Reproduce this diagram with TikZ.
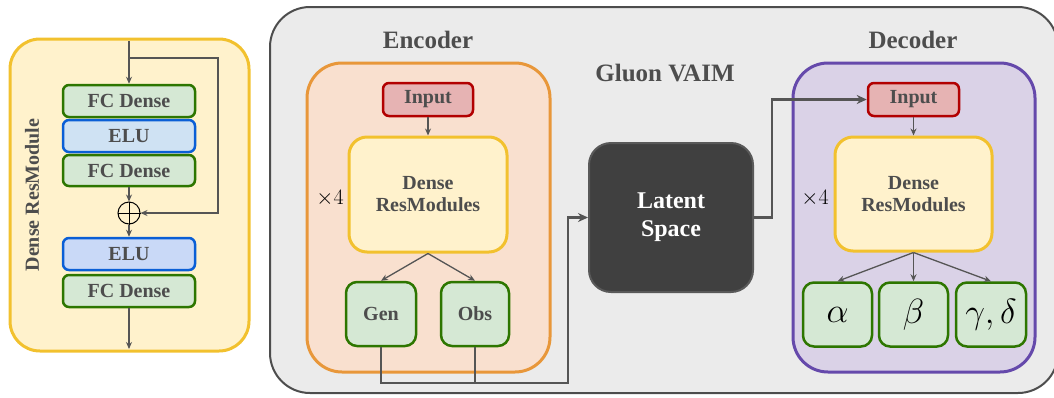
\RequirePackage{fix-cm}
\documentclass[tikz,border=0pt]{standalone}
\usepackage{graphicx}
\usepackage{fontspec}
\setmainfont{Liberation Serif}
\usetikzlibrary{arrows.meta}
\definecolor{txt}{HTML}{4D4D4D}
\definecolor{modfill}{HTML}{FFF2CC}
\definecolor{moddraw}{HTML}{F2C12E}
\definecolor{grfill}{HTML}{D5E8D4}
\definecolor{grdraw}{HTML}{2D7600}
\definecolor{bl1fill}{HTML}{CFE2F3}
\definecolor{bl2fill}{HTML}{C9D9F7}
\definecolor{bldraw}{HTML}{0A5FD6}
\definecolor{mainfill}{HTML}{EBEBEB}
\definecolor{maindraw}{HTML}{4D4D4D}
\definecolor{encfill}{HTML}{F9E0CF}
\definecolor{encdraw}{HTML}{E8973A}
\definecolor{decfill}{HTML}{DAD2E7}
\definecolor{decdraw}{HTML}{6549AB}
\definecolor{infill}{HTML}{E6B3B3}
\definecolor{indraw}{HTML}{B20000}
\definecolor{latfill}{HTML}{404040}
\definecolor{latdraw}{HTML}{595959}
\definecolor{arr}{HTML}{555555}
\newcommand{\bigmath}[1]{\scalebox{1.75}{$#1$}}
\tikzset{
  lbl/.style={text=txt, font=\bfseries\fontsize{20}{22}\selectfont, align=center},
  title/.style={text=txt, font=\bfseries\fontsize{25}{28}\selectfont},
  layer/.style={lbl, rounded corners=6pt, line width=2.5pt, inner sep=0pt},
  fcbox/.style={layer, fill=grfill, draw=grdraw},
  elu1box/.style={layer, fill=bl1fill, draw=bldraw},
  elu2box/.style={layer, fill=bl2fill, draw=bldraw},
  inbox/.style={lbl, rounded corners=6pt, line width=2.5pt, fill=infill, draw=indraw, inner sep=0pt, minimum height=33pt},
  densebox/.style={lbl, rounded corners=18pt, line width=3pt, fill=modfill, draw=moddraw, inner sep=0pt},
  outbox/.style={lbl, rounded corners=11pt, line width=2.5pt, fill=grfill, draw=grdraw, inner sep=0pt, minimum height=64pt},
  mathout/.style={outbox, text=black, font=\fontsize{20}{22}\selectfont},
  times4/.style={text=black, font=\fontsize{20}{22}\selectfont},
  small/.style={draw=arr, line width=1.3pt, -{Stealth[length=7pt,width=6pt]}},
  big/.style={draw=arr, line width=2.5pt, -{Stealth[length=10pt,width=9pt]}},
  bigline/.style={draw=arr, line width=2.5pt},
}
\begin{document}
\begin{tikzpicture}[x=1pt,y=-1pt]
\useasboundingbox (0,0) rectangle (1054,397);
% ---------- Dense ResModule ----------
\draw[fill=modfill, draw=moddraw, line width=3pt, rounded corners=30pt] (10,39) rectangle (249,351);
\node[lbl, rotate=90] (modlabel) at (32,195) {Dense ResModule};
\node[fcbox, minimum width=132pt, minimum height=32pt] (fc1) at (129,101) {FC Dense};
\node[elu1box, minimum width=132pt, minimum height=32pt] (elu1) at (129,136) {ELU};
\node[fcbox, minimum width=132pt, minimum height=31pt] (fc2) at (129,170.5) {FC Dense};
\node[circle, draw=black, line width=1pt, minimum size=22pt, inner sep=0pt] (plus) at (129,213) {};
\draw[black, line width=1pt] (plus.north) -- (plus.south) (plus.west) -- (plus.east);
\node[elu2box, minimum width=132pt, minimum height=32pt] (elu2) at (129,254) {ELU};
\node[fcbox, minimum width=132pt, minimum height=32pt] (fc3) at (129,291) {FC Dense};
\coordinate (mtop) at (129,41);
\coordinate (mbr) at (129,58);
\coordinate (mskip) at (218,58);
\coordinate (mbot) at (129,349);
\draw[small] (mtop) -- (fc1.north);
\draw[small] (mbr) -- (mskip) |- (plus.east);
\draw[small] (fc2.south) -- (plus.north);
\draw[small] (plus.south) -- (elu2.north);
\draw[small] (fc3.south) -- (mbot);
% ---------- Gluon VAIM ----------
\draw[fill=mainfill, draw=maindraw, line width=2pt, rounded corners=40pt] (270,7) rectangle (1058,393);
\node[title] (gtitle) at (665,73) {Gluon VAIM};
% Encoder
\node[title] (etitle) at (428,40) {Encoder};
\draw[fill=encfill, draw=encdraw, line width=3pt, rounded corners=35pt] (307,63) rectangle (550,372);
\node[inbox, minimum width=90pt] (ein) at (428,99.5) {Input};
\node[densebox, minimum width=158pt, minimum height=115pt] (eden) at (428,194.5) {Dense\\ResModules};
\node[times4] (ex4) at (330,198) {\scalebox{1.1}{$\times 4$}};
\node[outbox, minimum width=70pt] (gen) at (381,314) {Gen};
\node[outbox, minimum width=68pt] (obs) at (475,314) {Obs};
\draw[small] (ein.south) -- (eden.north);
\draw[small] (eden.south) -- (gen.north);
\draw[small] (eden.south) -- (obs.north);
% Latent
\node[lbl, rounded corners=22pt, line width=2pt, fill=latfill, draw=latdraw, text=white, font=\bfseries\fontsize{24}{28}\selectfont, minimum width=164pt, minimum height=149pt, inner sep=0pt] (latent) at (671,217.5) {Latent\\Space};
\coordinate (j1) at (568,383);
\coordinate (k1) at (772,217.5);
\draw[bigline] (obs.south) -- (obs.south |- j1);
\draw[big] (gen.south) |- (j1) |- (latent.west);
% Decoder
\node[title] (dtitle) at (913,40) {Decoder};
\draw[fill=decfill, draw=decdraw, line width=3pt, rounded corners=35pt] (793,63) rectangle (1035,372);
\node[inbox, minimum width=91pt] (din) at (913.5,99.5) {Input};
\node[densebox, minimum width=157pt, minimum height=114pt] (dden) at (913.5,194) {Dense\\ResModules};
\node[times4] (dx4) at (815,198) {\scalebox{1.1}{$\times 4$}};
\node[mathout, minimum width=69pt] (alpha) at (837.5,314.5) {\bigmath{\alpha}};
\node[mathout, minimum width=69pt] (beta) at (913.5,314.5) {\bigmath{\beta}};
\node[mathout, minimum width=70pt] (gd) at (991,314.5) {\bigmath{\gamma,\delta}};
\draw[big] (latent.east) -- (k1) |- (din.west);
\draw[small] (din.south) -- (dden.north);
\draw[small] (dden.south) -- (alpha.north);
\draw[small] (dden.south) -- (beta.north);
\draw[small] (dden.south) -- (gd.north);
\end{tikzpicture}
\end{document}
